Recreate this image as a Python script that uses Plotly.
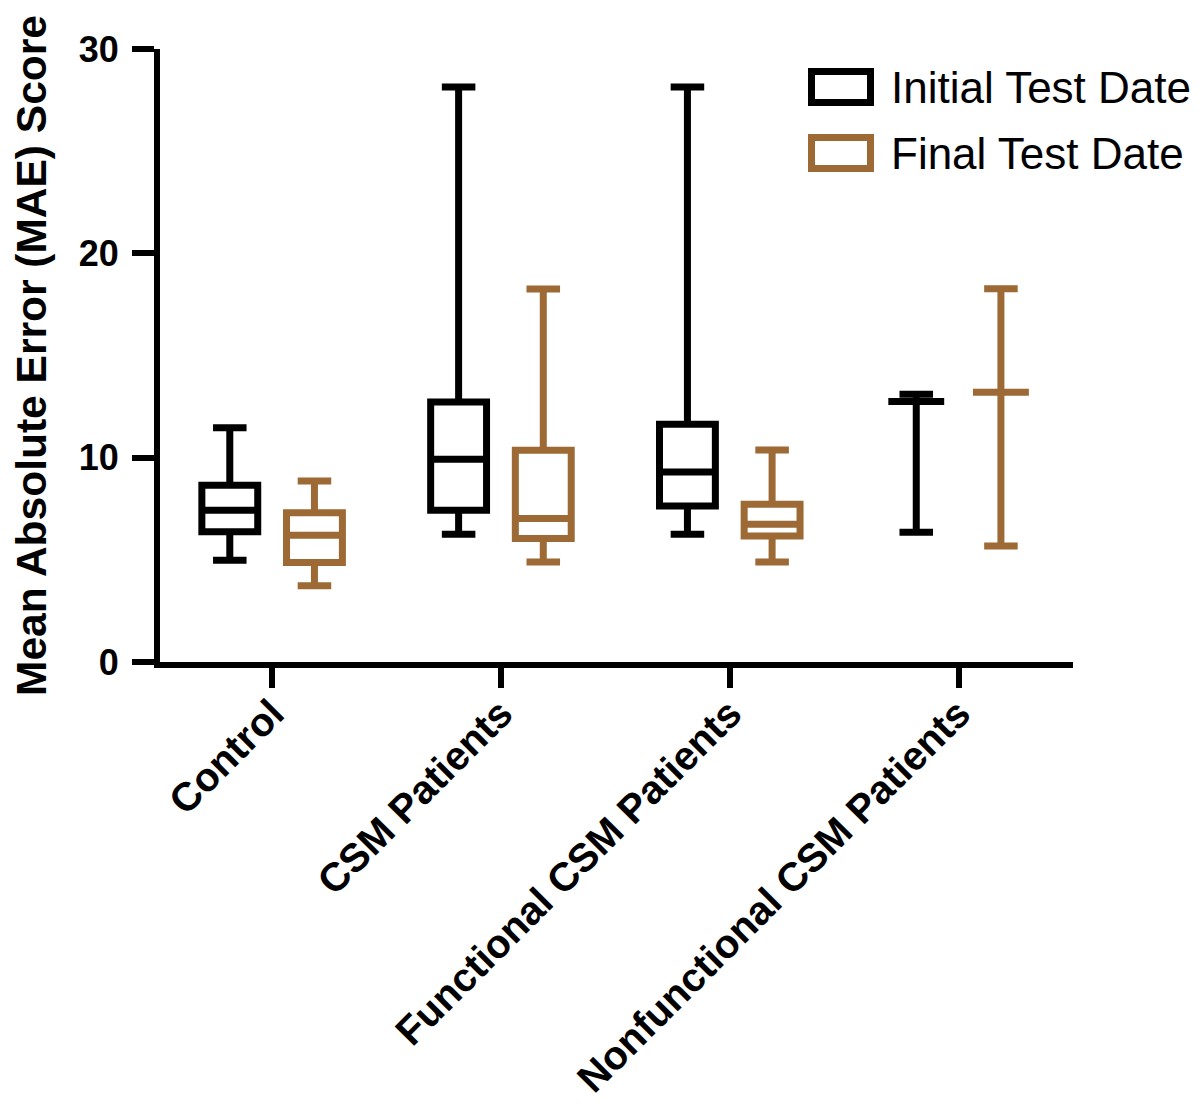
import plotly.graph_objects as go

categories = ["Control", "CSM Patients", "Functional CSM Patients", "Nonfunctional CSM Patients"]

# Initial Test Date (black)
init_lower = [4.98, 6.25, 6.25, 6.35]
init_q1 = [6.37, 7.43, 7.64, 12.75]
init_median = [7.43, 9.92, 9.30, 12.75]
init_q3 = [8.65, 12.72, 11.63, 12.75]
init_upper = [11.46, 28.14, 28.14, 13.10]

# Final Test Date (brown)
final_lower = [3.73, 4.90, 4.90, 5.68]
final_q1 = [4.87, 6.04, 6.17, 13.20]
final_median = [6.20, 7.02, 6.74, 13.20]
final_q3 = [7.31, 10.36, 7.72, 13.20]
final_upper = [8.86, 18.26, 10.37, 18.27]

series_names = ["Initial Test Date", "Final Test Date"]
y_title = "Mean Absolute Error (MAE) Score"
BLACK = "#000000"
BROWN = "#9D6934"
FONT = "Liberation Sans"

# page body has an 8px margin; size the figure so it fits the window
OFF = 8
W, H = 1200 - OFF, 1109 - OFF
ML, MT = 152, 41
MR = W - 1065
MB = H - 654
PW, PH = W - ML - MR, H - MT - MB

def px(x):
    return (x - OFF - ML) / PW

def py(y):
    return 1 - (y - OFF - MT) / PH

fig = go.Figure()
for name, color, lo, q1, med, q3, up in [
    (series_names[0], BLACK, init_lower, init_q1, init_median, init_q3, init_upper),
    (series_names[1], BROWN, final_lower, final_q1, final_median, final_q3, final_upper),
]:
    fig.add_trace(go.Box(
        name=name, x=categories, q1=q1, median=med, q3=q3,
        lowerfence=lo, upperfence=up,
        boxpoints=False, fillcolor="white",
        line=dict(color=color, width=7),
        whiskerwidth=0.6, showlegend=False,
    ))

fig.update_layout(
    width=W, height=H,
    margin=dict(l=ML, r=MR, t=MT, b=MB, autoexpand=False),
    plot_bgcolor="white", paper_bgcolor="white",
    boxmode="group", boxgap=0.26, boxgroupgap=0.34,
    font=dict(family=FONT, color="black"),
)
fig.update_xaxes(
    type="category", range=[-0.49, 3.5], automargin=False,
    showline=True, linecolor="black", linewidth=6,
    ticks="outside", ticklen=20, tickwidth=6, tickcolor="black",
    tickangle=-45, tickfont=dict(family=FONT, size=40, weight="bold"),
    ticklabelstandoff=-14,
    showgrid=False, zeroline=False,
)
fig.update_yaxes(
    range=[0, 30], tickvals=[0, 10, 20, 30], automargin=True,
    showline=True, linecolor="black", linewidth=6,
    ticks="outside", ticklen=22, tickwidth=6, tickcolor="black",
    tickfont=dict(family=FONT, size=36, weight="bold"),
    ticklabelstandoff=6,
    showgrid=False, zeroline=False,
    title=dict(text=y_title, standoff=40,
               font=dict(family=FONT, size=42.5, weight="bold", color="black")),
)

# Manual legend
legend_rows = [(series_names[0], BLACK, 68, 106), (series_names[1], BROWN, 134, 172)]
for name, color, y0, y1 in legend_rows:
    fig.add_shape(type="rect", xref="paper", yref="paper",
                  x0=px(811.5), x1=px(870.5), y0=py(y0 + 3.5), y1=py(y1 - 3.5),
                  line=dict(color=color, width=7), fillcolor="white")
    fig.add_annotation(xref="paper", yref="paper", x=px(889), y=py((y0 + y1) / 2),
                       text=name, showarrow=False, xanchor="left", yanchor="middle",
                       font=dict(family=FONT, size=44, color="black"))

fig.write_html("out.html")
